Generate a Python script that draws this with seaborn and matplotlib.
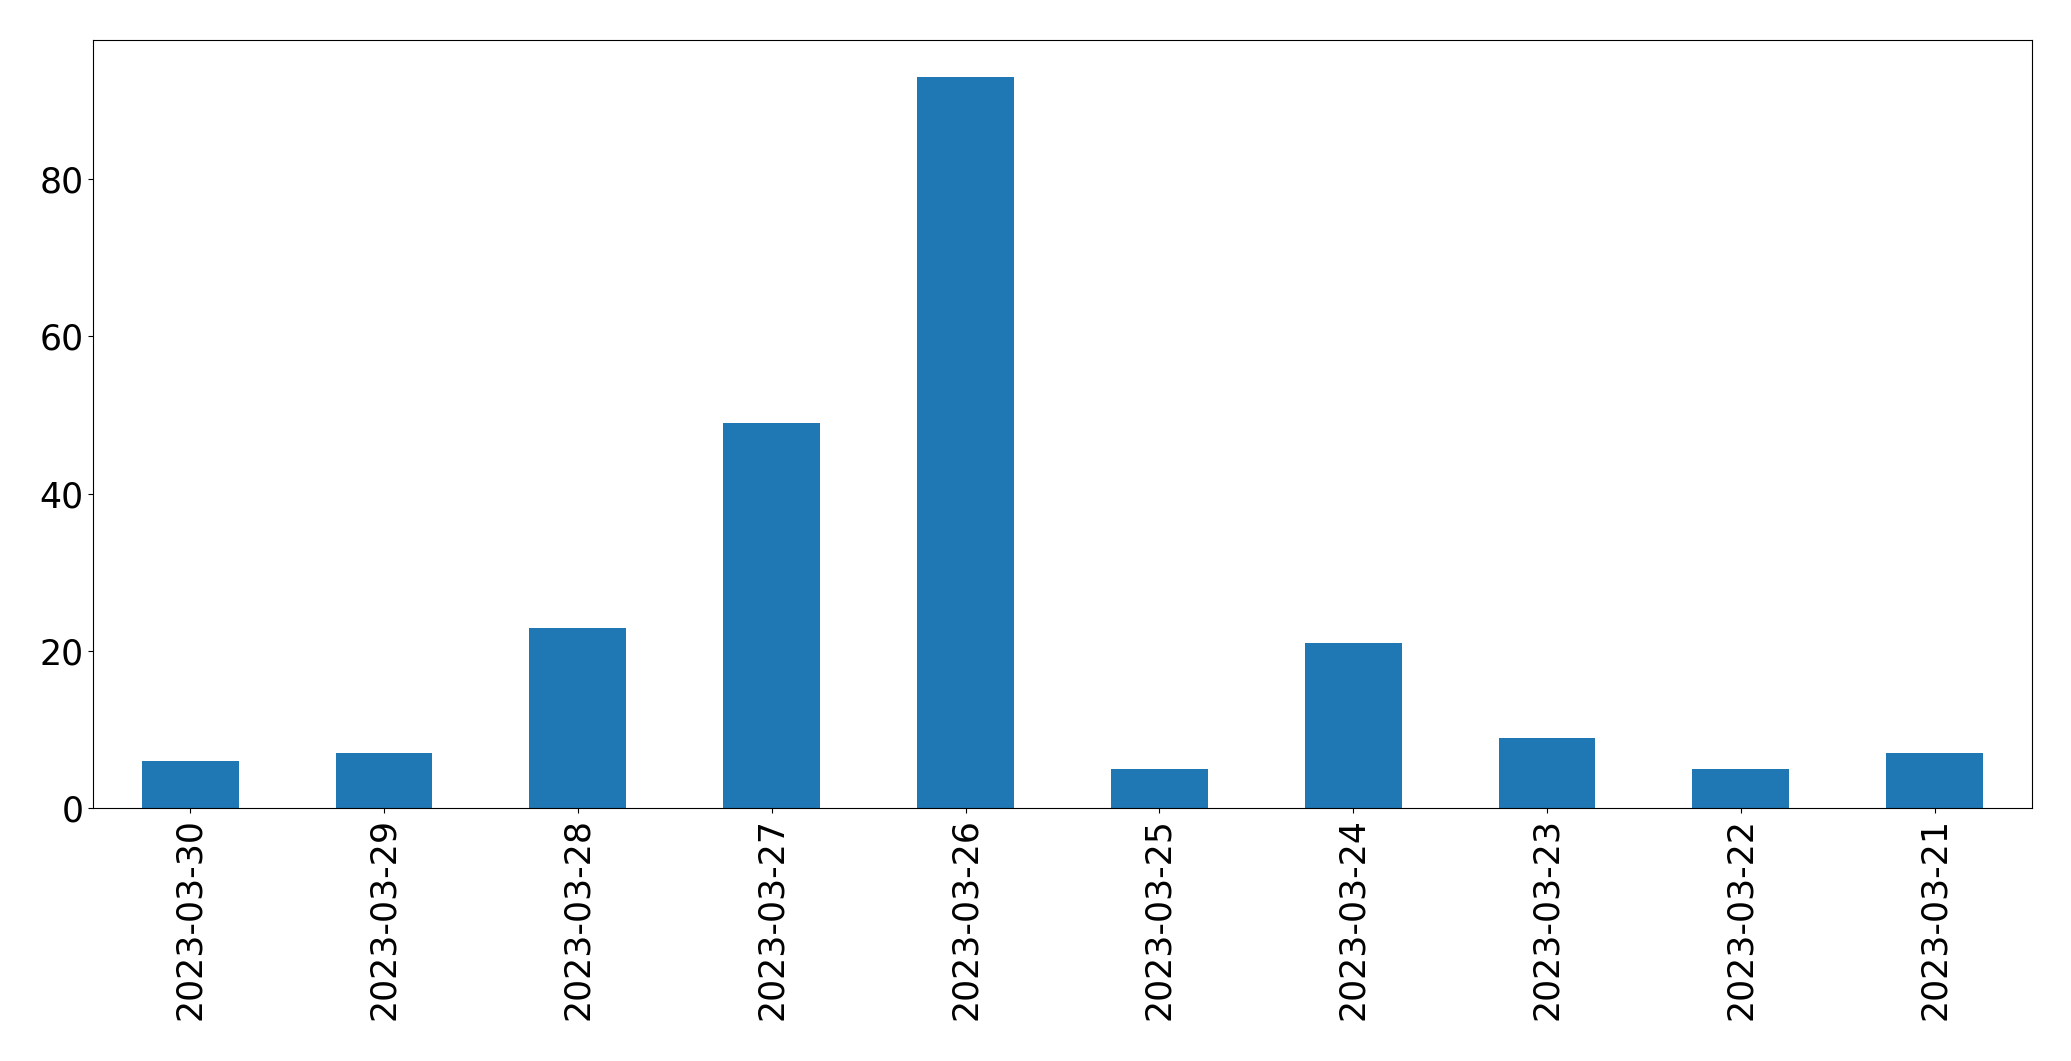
import pandas as pd
import matplotlib
matplotlib.use("Agg")
import matplotlib.pyplot as plt
import seaborn as sns

# Datos
dates = ["2023-03-30", "2023-03-29", "2023-03-28", "2023-03-27", "2023-03-26",
         "2023-03-25", "2023-03-24", "2023-03-23", "2023-03-22", "2023-03-21"]
counts = [6, 7, 23, 49, 93, 5, 21, 9, 5, 7]

df = pd.DataFrame({"date": dates, "count": counts})

fig, ax = plt.subplots(figsize=(20.71, 10.61), dpi=100)
sns.barplot(data=df, x="date", y="count", order=dates, color="#1f77b4",
            saturation=1, width=0.5, ax=ax)

ax.set_xlim(-0.5, len(dates) - 0.5)
ax.set_ylim(0, max(counts) * 1.05)
ax.set_xlabel("")
ax.set_ylabel("")
ax.tick_params(axis="both", labelsize=25)
plt.setp(ax.get_xticklabels(), rotation=90)

plt.subplots_adjust(left=0.045, right=0.981, top=0.962, bottom=0.238)
plt.savefig("out.png", dpi=100)
